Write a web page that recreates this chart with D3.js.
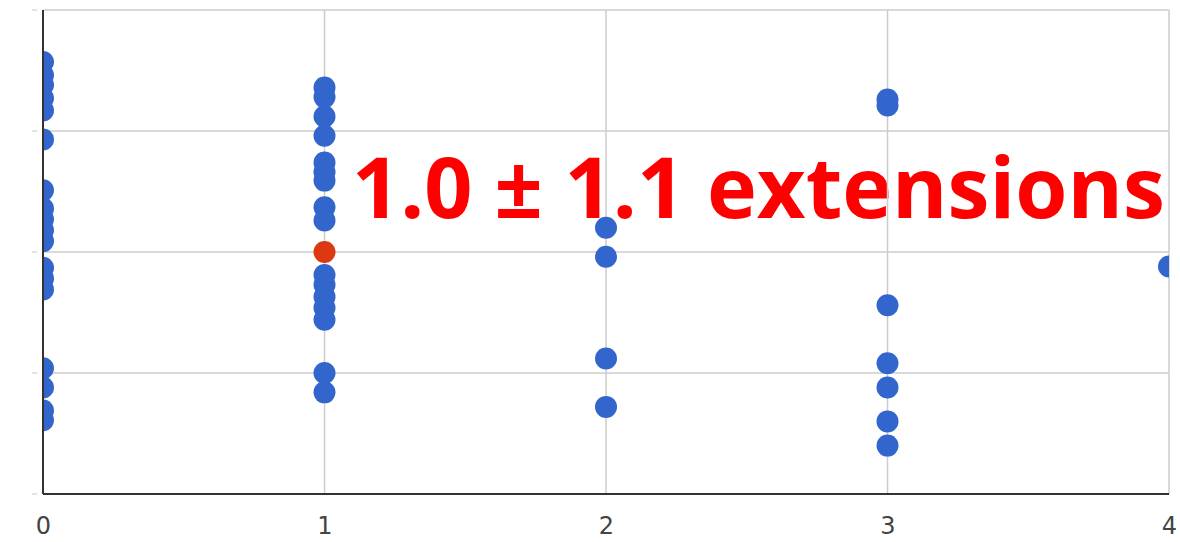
<!DOCTYPE html>
<html>
<head>
<meta charset="utf-8">
<script src="https://cdn.jsdelivr.net/npm/d3@7"></script>
<style>
  html, body { margin: 0; padding: 0; background: #fff; }
  svg { display: block; }
</style>
</head>
<body>
<svg id="chart" width="1180" height="542" xmlns="http://www.w3.org/2000/svg"></svg>
<script>
// ---- data ----
const xTicks = [0, 1, 2, 3, 4];
const yTicks = [0, 1, 2, 3, 4];
const col0 = [3.57, 3.46, 3.38, 3.27, 3.17, 2.93, 2.51, 2.36, 2.27, 2.18, 2.09, 1.87, 1.78, 1.69, 1.04, 0.88, 0.69, 0.61];
const col1 = [3.36, 3.28, 3.12, 2.96, 2.74, 2.66, 2.59, 2.37, 2.26, 1.81, 1.73, 1.63, 1.54, 1.44, 1.00, 0.84];
const col2 = [2.20, 1.96, 1.12, 0.72];
const col3 = [3.26, 3.21, 1.56, 1.08, 0.88, 0.60, 0.40];
const col4 = [1.88];
const meanPoint = [{ x: 1.0, y: 2.0 }];
const label = "1.0 \u00b1 1.1 extensions";

const points = [];
[col0, col1, col2, col3, col4].forEach((col, i) => col.forEach(v => points.push({ x: i, y: v })));

// ---- layout ----
const svg = d3.select("#chart");
const mLeft = 43, mRight = 1169, mTop = 10, mBottom = 494;
const x = d3.scaleLinear().domain([0, 4]).range([mLeft, mRight]);
const y = d3.scaleLinear().domain([0, 4]).range([mBottom, mTop]);

svg.append("defs").append("clipPath").attr("id", "plotAreaClip")
  .append("rect").attr("x", mLeft).attr("y", mTop - 2).attr("width", mRight - mLeft).attr("height", mBottom - mTop + 4);

// title text (under grid)
const t = svg.append("text")
  .attr("x", 352).attr("y", 218)
  .attr("font-family", "Open Sans")
  .attr("font-weight", 700)
  .attr("font-size", 88)
  .attr("fill", "#ff0000")
  .text(label);
const w = t.node().getComputedTextLength();
t.attr("font-size", 88 * 813 / w);

// grid
const grid = svg.append("g");
grid.selectAll(".hg").data(yTicks.filter(d => d > 0)).join("line")
  .attr("x1", mLeft).attr("x2", mRight)
  .attr("y1", d => y(d)).attr("y2", d => y(d))
  .attr("stroke", "#cccccc").attr("stroke-width", 1.5);
grid.selectAll(".vg").data(xTicks.filter(d => d > 0)).join("line")
  .attr("y1", mTop).attr("y2", mBottom)
  .attr("x1", d => x(d)).attr("x2", d => x(d))
  .attr("stroke", "#cccccc").attr("stroke-width", 1.5);

// faint y ticks
svg.append("g").selectAll("line").data(yTicks).join("line")
  .attr("x1", 32).attr("x2", 37)
  .attr("y1", d => y(d)).attr("y2", d => y(d))
  .attr("stroke", "#d8d8d8").attr("stroke-width", 1.5);

// points
const plot = svg.append("g")
  .attr("clip-path", "url(#plotAreaClip)")
  .style("clip-path", "url(#plotAreaClip)");
plot.selectAll(".pt").data(points).join("circle")
  .attr("cx", d => x(d.x)).attr("cy", d => y(d.y)).attr("r", 11)
  .attr("fill", "#3366cc");
plot.selectAll(".mean").data(meanPoint).join("circle")
  .attr("cx", d => x(d.x)).attr("cy", d => y(d.y)).attr("r", 11)
  .attr("fill", "#dc3912");

// axes lines
svg.append("line").attr("x1", mLeft).attr("x2", mLeft).attr("y1", mTop).attr("y2", mBottom)
  .attr("stroke", "#333").attr("stroke-width", 2);
svg.append("line").attr("x1", mLeft).attr("x2", mRight).attr("y1", mBottom).attr("y2", mBottom)
  .attr("stroke", "#333").attr("stroke-width", 2);

// x axis labels
const xAxis = d3.axisBottom(x).tickValues(xTicks).tickSize(0).tickPadding(0).tickFormat(d3.format("d"));
const gx = svg.append("g").attr("transform", `translate(0,${mBottom})`).call(xAxis);
gx.select(".domain").remove();
gx.selectAll("text")
  .attr("dy", null).attr("y", 40)
  .attr("font-family", "DejaVu Sans").attr("font-size", 24).attr("fill", "#444");
</script>
</body>
</html>
